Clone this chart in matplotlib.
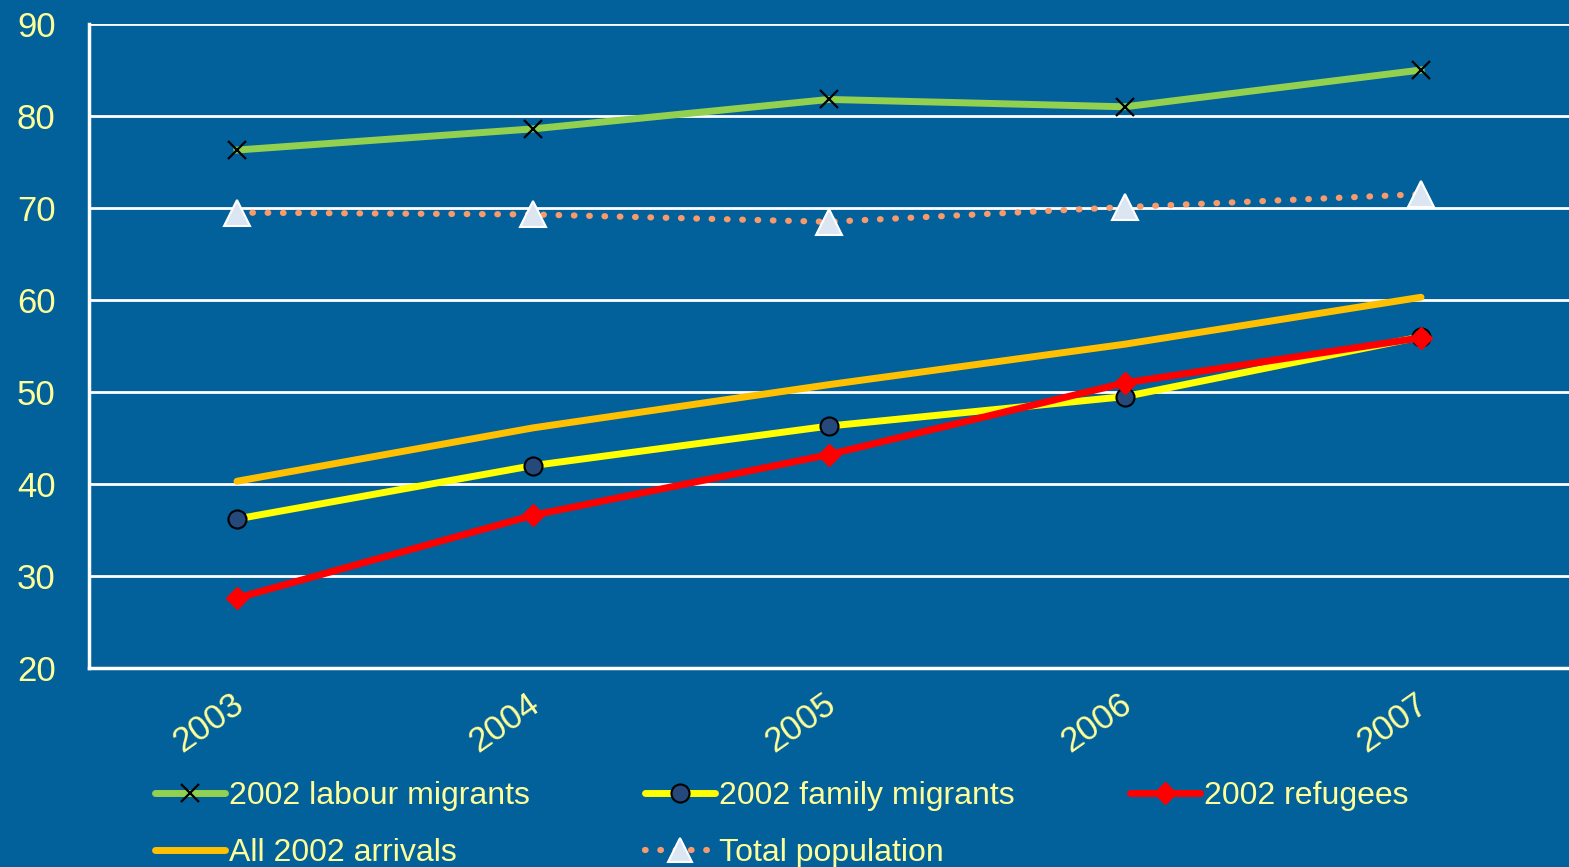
import matplotlib.pyplot as plt
import matplotlib.lines as mlines
import matplotlib.transforms as mtransforms

years = ["2003", "2004", "2005", "2006", "2007"]
labour = [76.3, 78.6, 81.8, 81.0, 85.0]
total_pop = [69.5, 69.3, 68.5, 70.1, 71.5]
all_arrivals = [40.3, 46.1, 50.8, 55.2, 60.3]
family = [36.2, 42.0, 46.3, 49.5, 56.0]
refugees = [27.6, 36.6, 43.2, 51.0, 55.9]

bg = "#02609a"
txt = "#ffff99"
dots = (0, (0.1, 2.35))

plt.rcParams["font.family"] = ["Liberation Sans", "DejaVu Sans"]

fig = plt.figure(figsize=(15.69, 8.67), dpi=100, facecolor=bg)
ax = fig.add_axes([89 / 1569, 1 - 668 / 867, 1 - 89 / 1569, (668 - 24) / 867])
ax.set_facecolor(bg)

x = range(len(years))

ax.plot(x, all_arrivals, color="#ffc000", lw=5, solid_capstyle="round", zorder=3)
ax.plot(x, total_pop, color="#f79a6c", lw=4.5, linestyle=dots,
        dash_capstyle="round", zorder=3)
ax.plot(x, total_pop, linestyle="none", marker="^", ms=19, mfc="#dce6f2",
        mec="white", mew=1.5, zorder=4)
ax.plot(x, labour, color="#92d050", lw=5, marker="x", ms=13, mec="black",
        mew=1.6, zorder=4)
ax.plot(x, family, color="#ffff00", lw=5, marker="o", ms=13, mfc="#26497c",
        mec="black", mew=1.5, zorder=4)
ax.plot(x, refugees, color="#ff0000", lw=5, marker="D", ms=11, mfc="#ff0000",
        mec="#ff0000", zorder=5)

ax.set_xlim(-0.5, 4.5)
ax.set_ylim(20, 90)
ax.set_yticks(range(20, 91, 10))
ax.set_xticks(list(x))
ax.set_xticklabels(years, rotation=35, ha="right", rotation_mode="anchor")
ax.tick_params(axis="both", length=0, colors=txt, labelsize=25)
ax.tick_params(axis="y", pad=24)
ax.tick_params(axis="x", pad=14)
shift = mtransforms.ScaledTranslation(-6 / 100, 0, fig.dpi_scale_trans)
for lab in ax.get_xticklabels():
    lab.set_transform(lab.get_transform() + shift)

ax.grid(axis="y", color="white", lw=2)
ax.set_axisbelow(True)
for side in ["top", "right"]:
    ax.spines[side].set_visible(False)
for side in ["left", "bottom"]:
    ax.spines[side].set_color("white")
    ax.spines[side].set_linewidth(2.5)

# legend handles, laid out column by column
h_labour = mlines.Line2D([], [], color="#92d050", lw=5, marker="x", ms=13,
                         mec="black", mew=1.6, solid_capstyle="round")
h_all = mlines.Line2D([], [], color="#ffc000", lw=5, solid_capstyle="round")
h_family = mlines.Line2D([], [], color="#ffff00", lw=5, marker="o", ms=13,
                         mfc="#26497c", mec="black", mew=1.5,
                         solid_capstyle="round")
h_total = mlines.Line2D([], [], color="#f79a6c", lw=4.5, linestyle=dots,
                        dash_capstyle="round", marker="^", ms=17,
                        mfc="#dce6f2", mec="white", mew=1.5)
h_ref = mlines.Line2D([], [], color="#ff0000", lw=5, marker="D", ms=11,
                      solid_capstyle="round")

leg = fig.legend(
    [h_labour, h_all, h_family, h_total, h_ref],
    ["2002 labour migrants", "All 2002 arrivals", "2002 family migrants",
     "Total population", "2002 refugees"],
    ncol=3, loc="upper left", bbox_to_anchor=(155 / 1569, 1 - 781 / 867),
    frameon=False, fontsize=23, handlelength=2.2, handletextpad=0.12,
    columnspacing=3.6, labelspacing=0.85, borderaxespad=0, borderpad=0,
)
for t in leg.get_texts():
    t.set_color(txt)

fig.savefig("out.png", dpi=100, facecolor=bg)
